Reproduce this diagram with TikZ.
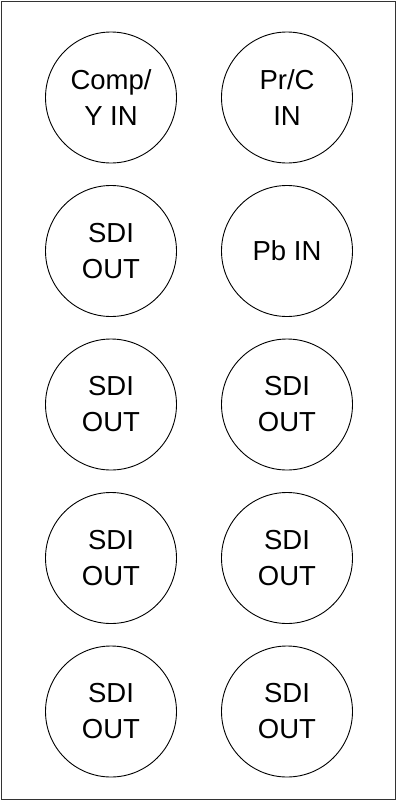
\documentclass[tikz,border=0pt]{standalone}
\usepackage{fontspec}
\setmainfont{Liberation Sans}
\begin{document}
\begin{tikzpicture}[x=1pt,y=-1pt,
  jack/.style={circle,draw=black,line width=0.9pt,minimum size=131pt,inner sep=0pt,align=center,
    font=\fontsize{27.5pt}{36pt}\selectfont},
  panel/.style={draw=black!80,line width=1pt}]
\useasboundingbox (0,0) rectangle (397,801);
\node[panel,minimum width=394pt,minimum height=798pt,inner sep=0pt,anchor=north west] (box) at (1,1) {};
\node[jack] (a1) at (111,97.5) {Comp/\\Y IN};
\node[jack] (b1) at (287,97.5) {Pr/C\\IN};
\node[jack] (a2) at (111,251) {SDI\\OUT};
\node[jack] (b2) at (287,251) {Pb IN};
\node[jack] (a3) at (111,404.5) {SDI\\OUT};
\node[jack] (b3) at (287,404.5) {SDI\\OUT};
\node[jack] (a4) at (111,558) {SDI\\OUT};
\node[jack] (b4) at (287,558) {SDI\\OUT};
\node[jack] (a5) at (111,711.5) {SDI\\OUT};
\node[jack] (b5) at (287,711.5) {SDI\\OUT};
\end{tikzpicture}
\end{document}
